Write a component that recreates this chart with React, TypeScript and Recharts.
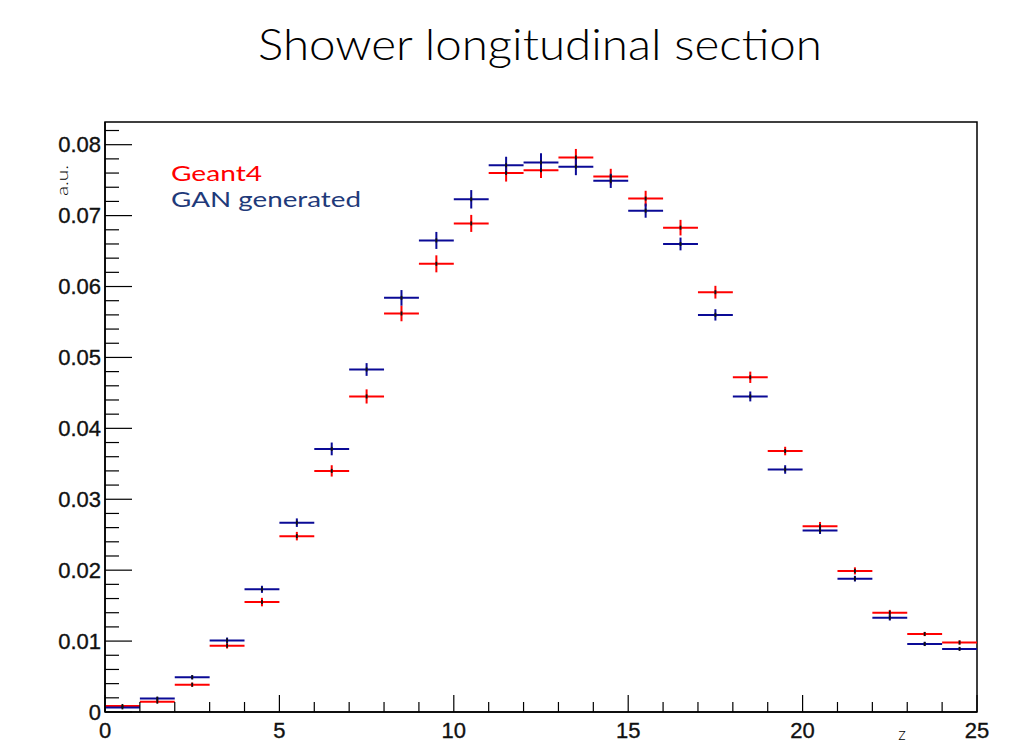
import React from "react";
import {
  ComposedChart,
  Scatter,
  ErrorBar,
  XAxis,
  YAxis,
  ReferenceArea,
} from "recharts";

// Bin centres along the shower depth (unit-width bins, 0..25)
const binCenters = [
  0.5, 1.5, 2.5, 3.5, 4.5, 5.5, 6.5, 7.5, 8.5, 9.5, 10.5, 11.5, 12.5, 13.5,
  14.5, 15.5, 16.5, 17.5, 18.5, 19.5, 20.5, 21.5, 22.5, 23.5, 24.5,
];
const binHalfWidth = 0.5;

// Geant4 reference profile (normalised energy fraction per layer)
const geant4Values = [
  0.00085, 0.00145, 0.00385, 0.00935, 0.0155, 0.0248, 0.034, 0.0445, 0.0562,
  0.0632, 0.0689, 0.076, 0.0764, 0.0782, 0.0755, 0.0724, 0.0683, 0.0592,
  0.0472, 0.0368, 0.0262, 0.0199, 0.014, 0.011, 0.0098,
];
const geant4Errors = [
  0.0001, 0.0002, 0.0003, 0.0004, 0.0006, 0.0006, 0.0008, 0.001, 0.0011,
  0.0012, 0.0012, 0.0012, 0.0011, 0.0012, 0.0011, 0.0011, 0.0011, 0.0009,
  0.0008, 0.0006, 0.0006, 0.0005, 0.0004, 0.0003, 0.0003,
];

// GAN generated profile
const ganValues = [
  0.00065, 0.0019, 0.0049, 0.0101, 0.0173, 0.0267, 0.0371, 0.0483, 0.0584,
  0.0665, 0.0723, 0.0771, 0.0775, 0.0769, 0.0749, 0.0707, 0.066, 0.056,
  0.0445, 0.0342, 0.0256, 0.0188, 0.0133, 0.0096, 0.0089,
];
const ganErrors = [
  0.0001, 0.0002, 0.0003, 0.0004, 0.0005, 0.0006, 0.0009, 0.0009, 0.0011,
  0.0012, 0.0013, 0.0012, 0.0013, 0.0012, 0.001, 0.001, 0.0009, 0.0008,
  0.0007, 0.0006, 0.0005, 0.0004, 0.0004, 0.0003, 0.0002,
];

// Axis ranges and ticks
const X_MIN = 0;
const X_MAX = 25;
const Y_MAX = 0.0832;
const xTicks = Array.from({ length: 26 }, (_, i) => i);
const xMajorTicks = [0, 5, 10, 15, 20, 25];
const yTicks = Array.from({ length: 42 }, (_, i) => +(i * 0.002).toFixed(3));
const yMajorLabels: Record<string, string> = {
  "0": "0",
  "0.01": "0.01",
  "0.02": "0.02",
  "0.03": "0.03",
  "0.04": "0.04",
  "0.05": "0.05",
  "0.06": "0.06",
  "0.07": "0.07",
  "0.08": "0.08",
};

const TITLE = "Shower longitudinal section";
const X_TITLE = "z";
const Y_TITLE = "a.u.";
const SERIES_NAMES = ["Geant4", "GAN generated"];

const RED = "#ff0000";
const BLUE = "#0a0a96";
const LEGEND_BLUE = "#1f3a7a";

// Frame of the plotting area in page pixels
const W = 1024;
const H = 750;
const PLOT_LEFT = 105;
const PLOT_RIGHT = 977;
const PLOT_TOP = 122;
const PLOT_BOTTOM = 712;

const TICK_FONT = "'Liberation Sans', Arial, Helvetica, sans-serif";
const TEXT_FONT = "Lato, 'Open Sans', sans-serif";

const makeSeries = (values: number[], errors: number[]) =>
  binCenters.map((x, i) => ({
    x,
    y: values[i],
    ex: binHalfWidth,
    ey: errors[i],
  }));

const geant4Data = makeSeries(geant4Values, geant4Errors);
const ganData = makeSeries(ganValues, ganErrors);

// Small dark centre marker of each error cross
const CrossCentre = (props: any) => {
  const { cx, cy } = props;
  if (cx == null || cy == null) return <g />;
  return <rect x={cx - 0.9} y={cy - 2} width={1.8} height={4} fill="#111" />;
};

// Y ticks point into the frame; major ticks carry the label
const YTick = (props: any) => {
  const { y, payload } = props;
  const v: number = payload.value;
  const key = String(+v.toFixed(3));
  const label = yMajorLabels[key];
  const major = label !== undefined;
  return (
    <g>
      <line
        x1={PLOT_LEFT}
        x2={PLOT_LEFT + (major ? 27 : 14)}
        y1={y}
        y2={y}
        stroke="#000"
        strokeWidth={1.2}
      />
      {major && (
        <text
          x={PLOT_LEFT - 4}
          y={y + 7.8}
          textAnchor="end"
          fontFamily={TICK_FONT}
          fontSize={22}
          fill="#111"
          stroke="#111"
          strokeWidth={0.35}
        >
          {label}
        </text>
      )}
    </g>
  );
};

// X ticks point upward into the frame
const XTick = (props: any) => {
  const { x, payload } = props;
  const v: number = payload.value;
  const major = xMajorTicks.includes(v);
  return (
    <g>
      <line
        x1={x}
        x2={x}
        y1={PLOT_BOTTOM}
        y2={PLOT_BOTTOM - (major ? 17 : 10)}
        stroke="#000"
        strokeWidth={1.2}
      />
      {major && (
        <text
          x={x}
          y={PLOT_BOTTOM + 25.5}
          textAnchor="middle"
          fontFamily={TICK_FONT}
          fontSize={22}
          fill="#111"
          stroke="#111"
          strokeWidth={0.35}
        >
          {v}
        </text>
      )}
    </g>
  );
};

export default function App() {
  return (
    <div
      style={{
        position: "absolute",
        left: 0,
        top: 0,
        width: W,
        height: H,
        background: "#fff",
      }}
    >
      <ComposedChart
        width={W}
        height={H}
        margin={{ top: PLOT_TOP, right: W - PLOT_RIGHT, bottom: 0, left: 0 }}
      >
        <XAxis
          dataKey="x"
          type="number"
          domain={[X_MIN, X_MAX]}
          ticks={xTicks}
          interval={0}
          allowDataOverflow
          height={H - PLOT_BOTTOM}
          tickLine={false}
          tick={<XTick />}
          axisLine={{ stroke: "#000", strokeWidth: 1.5 }}
        />
        <YAxis
          dataKey="y"
          type="number"
          domain={[0, Y_MAX]}
          ticks={yTicks}
          interval={0}
          allowDataOverflow
          width={PLOT_LEFT}
          tickLine={false}
          tick={<YTick />}
          axisLine={{ stroke: "#000", strokeWidth: 1.5 }}
        />
        <ReferenceArea
          x1={X_MIN}
          x2={X_MAX}
          y1={0}
          y2={Y_MAX}
          fill="none"
          fillOpacity={0}
          stroke="#000"
          strokeWidth={1.5}
          ifOverflow="visible"
        />
        <Scatter
          name={SERIES_NAMES[0]}
          data={geant4Data}
          dataKey="y"
          fill={RED}
          shape={<CrossCentre />}
          isAnimationActive={false}
        >
          <ErrorBar
            dataKey="ex"
            direction="x"
            width={0}
            stroke={RED}
            strokeWidth={2}
            isAnimationActive={false}
          />
          <ErrorBar
            dataKey="ey"
            direction="y"
            width={0}
            stroke={RED}
            strokeWidth={2}
            isAnimationActive={false}
          />
        </Scatter>
        <Scatter
          name={SERIES_NAMES[1]}
          data={ganData}
          dataKey="y"
          fill={BLUE}
          shape={<CrossCentre />}
          isAnimationActive={false}
        >
          <ErrorBar
            dataKey="ex"
            direction="x"
            width={0}
            stroke={BLUE}
            strokeWidth={2}
            isAnimationActive={false}
          />
          <ErrorBar
            dataKey="ey"
            direction="y"
            width={0}
            stroke={BLUE}
            strokeWidth={2}
            isAnimationActive={false}
          />
        </Scatter>
      </ComposedChart>

      {/* Title, legend and axis titles */}
      <svg
        width={W}
        height={H}
        style={{ position: "absolute", left: 0, top: 0, pointerEvents: "none" }}
      >
        <text
          x={258}
          y={60}
          fontFamily={TEXT_FONT}
          fontSize={44}
          fontWeight={300}
          fill="#000"
          textLength={564}
          lengthAdjust="spacingAndGlyphs"
        >
          {TITLE}
        </text>
        <text
          x={171}
          y={181}
          fontFamily={TEXT_FONT}
          fontSize={22}
          fill={RED}
          textLength={91}
          lengthAdjust="spacingAndGlyphs"
        >
          {SERIES_NAMES[0]}
        </text>
        <text
          x={171}
          y={207}
          fontFamily={TEXT_FONT}
          fontSize={22}
          fill={LEGEND_BLUE}
          textLength={190}
          lengthAdjust="spacingAndGlyphs"
        >
          {SERIES_NAMES[1]}
        </text>
        <text
          x={902}
          y={740}
          textAnchor="middle"
          fontFamily={TEXT_FONT}
          fontSize={17}
          fontWeight={300}
          fill="#000"
        >
          {X_TITLE}
        </text>
        <text
          transform="translate(68,180.5) rotate(-90)"
          textAnchor="middle"
          fontFamily={TEXT_FONT}
          fontSize={16}
          fontWeight={300}
          fill="#000"
          textLength={31}
          lengthAdjust="spacingAndGlyphs"
        >
          {Y_TITLE}
        </text>
      </svg>
    </div>
  );
}
